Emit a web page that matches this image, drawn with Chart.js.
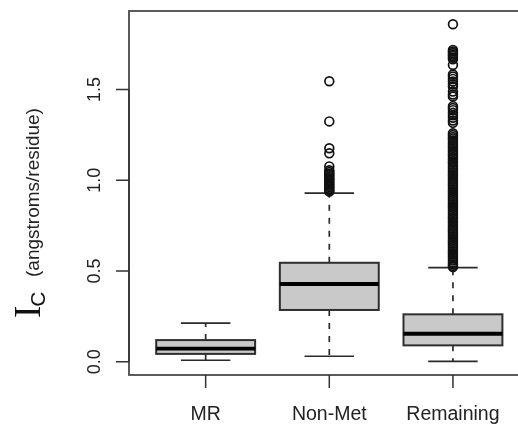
<!DOCTYPE html>
<html>
<head>
<meta charset="utf-8">
<script src="https://cdn.jsdelivr.net/npm/chart.js@4/dist/chart.umd.min.js"></script>
<style>
  html, body { margin: 0; padding: 0; background: #fff; overflow: hidden; }
  #wrap { width: 518px; height: 425px; overflow: hidden; }
</style>
</head>
<body>
<div id="wrap"><canvas id="boxChart" width="540" height="425"></canvas></div>
<script>
const categories = ["MR", "Non-Met", "Remaining"];
const lowWhisker = [0.008, 0.030, 0.002];
const q1 = [0.043, 0.285, 0.090];
const medians = [0.072, 0.428, 0.154];
const q3 = [0.119, 0.545, 0.261];
const highWhisker = [0.212, 0.929, 0.518];

const mrOutliers = [];
const nonMetOutliers = [1.545, 1.324, 1.176, 1.148, 1.076, 1.055, 1.045, 1.036, 1.028, 1.019, 1.011,
  1.002, 0.995, 0.986, 0.978, 0.969, 0.961, 0.952, 0.944, 0.937];
const remainingOutliers = [1.859,
  1.718, 1.709, 1.701, 1.692, 1.684, 1.675, 1.666,
  1.635,
  1.582, 1.571, 1.558, 1.544, 1.529, 1.516,
  1.488, 1.472, 1.461,
  1.408, 1.398, 1.386, 1.371, 1.358, 1.344, 1.329, 1.316,
  1.259, 1.249, 1.238, 1.228, 1.219, 1.207, 1.198, 1.187, 1.178, 1.166, 1.157, 1.146, 1.137,
  1.126, 1.116, 1.105, 1.096, 1.085, 1.074, 1.065, 1.054, 1.044, 1.033, 1.024, 1.013, 1.003,
  0.993, 0.982, 0.972, 0.962, 0.951, 0.941, 0.931, 0.920, 0.910, 0.899, 0.889, 0.879, 0.868,
  0.858, 0.848, 0.837, 0.827, 0.817, 0.806, 0.796, 0.786, 0.775, 0.765, 0.754, 0.744, 0.734,
  0.723, 0.713, 0.703, 0.692, 0.682, 0.671, 0.661, 0.651, 0.640, 0.630, 0.620, 0.609, 0.599,
  0.589, 0.578, 0.568, 0.557, 0.547, 0.537, 0.527, 0.521];

const yTicks = [0, 0.5, 1.0, 1.5];
const yTickLabels = ["0.0", "0.5", "1.0", "1.5"];

const outlierGroups = [mrOutliers, nonMetOutliers, remainingOutliers];
const outlierPoints = [];
outlierGroups.forEach(function (group, i) {
  group.forEach(function (v) {
    outlierPoints.push({ x: i + 1, y: v });
  });
});

// draws boxes, whiskers and medians using the chart scales
const boxPlugin = {
  id: "boxes",
  beforeDatasetsDraw(chart) {
    const ctx = chart.ctx;
    const xs = chart.scales.x;
    const ys = chart.scales.y;
    ctx.save();
    categories.forEach(function (c, i) {
      const pos = i + 1;
      const xl = xs.getPixelForValue(pos - 0.4);
      const xr = xs.getPixelForValue(pos + 0.4);
      const cl = xs.getPixelForValue(pos - 0.2);
      const cr = xs.getPixelForValue(pos + 0.2);
      const xc = xs.getPixelForValue(pos);
      const yLo = ys.getPixelForValue(lowWhisker[i]);
      const yQ1 = ys.getPixelForValue(q1[i]);
      const yMed = ys.getPixelForValue(medians[i]);
      const yQ3 = ys.getPixelForValue(q3[i]);
      const yHi = ys.getPixelForValue(highWhisker[i]);

      // whiskers
      ctx.strokeStyle = "#2a2a2a";
      ctx.lineWidth = 1.7;
      ctx.setLineDash([6, 7]);
      ctx.beginPath();
      ctx.moveTo(xc, yQ3);
      ctx.lineTo(xc, yHi);
      ctx.moveTo(xc, yQ1);
      ctx.lineTo(xc, yLo);
      ctx.stroke();
      ctx.setLineDash([]);

      // caps
      ctx.beginPath();
      ctx.moveTo(cl, yHi);
      ctx.lineTo(cr, yHi);
      ctx.moveTo(cl, yLo);
      ctx.lineTo(cr, yLo);
      ctx.stroke();

      // box
      ctx.fillStyle = "#c9c9c9";
      ctx.fillRect(xl, yQ3, xr - xl, yQ1 - yQ3);
      ctx.strokeStyle = "#2e2e2e";
      ctx.lineWidth = 2;
      ctx.strokeRect(xl, yQ3, xr - xl, yQ1 - yQ3);

      // median
      ctx.strokeStyle = "#000";
      ctx.lineWidth = 3.8;
      ctx.beginPath();
      ctx.moveTo(xl, yMed);
      ctx.lineTo(xr, yMed);
      ctx.stroke();
    });
    ctx.restore();
  },
  afterDraw(chart) {
    const ctx = chart.ctx;
    const a = chart.chartArea;
    const xs = chart.scales.x;
    const ys = chart.scales.y;
    ctx.save();

    // frame
    ctx.strokeStyle = "#4a4a4a";
    ctx.lineWidth = 1.8;
    ctx.strokeRect(a.left, a.top, a.right - a.left, a.bottom - a.top);

    // y axis
    ctx.strokeStyle = "#333";
    ctx.lineWidth = 1.5;
    ctx.beginPath();
    ctx.moveTo(a.left, ys.getPixelForValue(yTicks[0]));
    ctx.lineTo(a.left, ys.getPixelForValue(yTicks[yTicks.length - 1]));
    yTicks.forEach(function (t) {
      const y = ys.getPixelForValue(t);
      ctx.moveTo(a.left, y);
      ctx.lineTo(a.left - 13, y);
    });
    // x axis ticks
    categories.forEach(function (c, i) {
      const x = xs.getPixelForValue(i + 1);
      ctx.moveTo(x, a.bottom);
      ctx.lineTo(x, a.bottom + 13);
    });
    ctx.stroke();

    ctx.fillStyle = "#222";
    // y tick labels, rotated
    ctx.font = "18px 'Liberation Sans', Arial, sans-serif";
    ctx.textAlign = "center";
    ctx.textBaseline = "alphabetic";
    yTicks.forEach(function (t, i) {
      const y = ys.getPixelForValue(t);
      ctx.save();
      ctx.translate(a.left - 29, y);
      ctx.rotate(-Math.PI / 2);
      ctx.fillText(yTickLabels[i], 0, 0);
      ctx.restore();
    });

    // x labels
    ctx.font = "19.5px 'Liberation Sans', Arial, sans-serif";
    categories.forEach(function (c, i) {
      ctx.fillText(c, xs.getPixelForValue(i + 1), a.bottom + 45);
    });

    // y title: I with subscript C, then units
    ctx.save();
    ctx.translate(40, 318);
    ctx.rotate(-Math.PI / 2);
    ctx.textAlign = "left";
    ctx.fillStyle = "#111";
    ctx.font = "37px 'Liberation Serif', 'Times New Roman', serif";
    ctx.fillText("I", 0, 0);
    let w = ctx.measureText("I").width;
    ctx.font = "21px 'Liberation Sans', Arial, sans-serif";
    ctx.fillText("C", w - 1, 5);
    ctx.fillStyle = "#222";
    ctx.font = "19px 'Liberation Sans', Arial, sans-serif";
    ctx.fillText("(angstroms/residue)", 41, -1);
    ctx.restore();

    ctx.restore();
  }
};

new Chart(document.getElementById("boxChart").getContext("2d"), {
  type: "scatter",
  data: {
    datasets: [
      {
        label: "outliers",
        data: outlierPoints,
        pointStyle: "circle",
        pointRadius: 4.4,
        pointHoverRadius: 4.4,
        backgroundColor: "rgba(0,0,0,0)",
        borderColor: "#111",
        borderWidth: 1.7,
      },
    ],
  },
  options: {
    responsive: false,
    animation: false,
    layout: {
      padding: { left: 129, top: 11, right: 10.4, bottom: 50 },
    },
    plugins: {
      legend: { display: false },
      tooltip: { enabled: false },
    },
    scales: {
      x: { type: "linear", min: 0.38, max: 3.62, display: false },
      y: { type: "linear", min: -0.0733, max: 1.9322, display: false },
    },
  },
  plugins: [boxPlugin],
});
</script>
</body>
</html>
